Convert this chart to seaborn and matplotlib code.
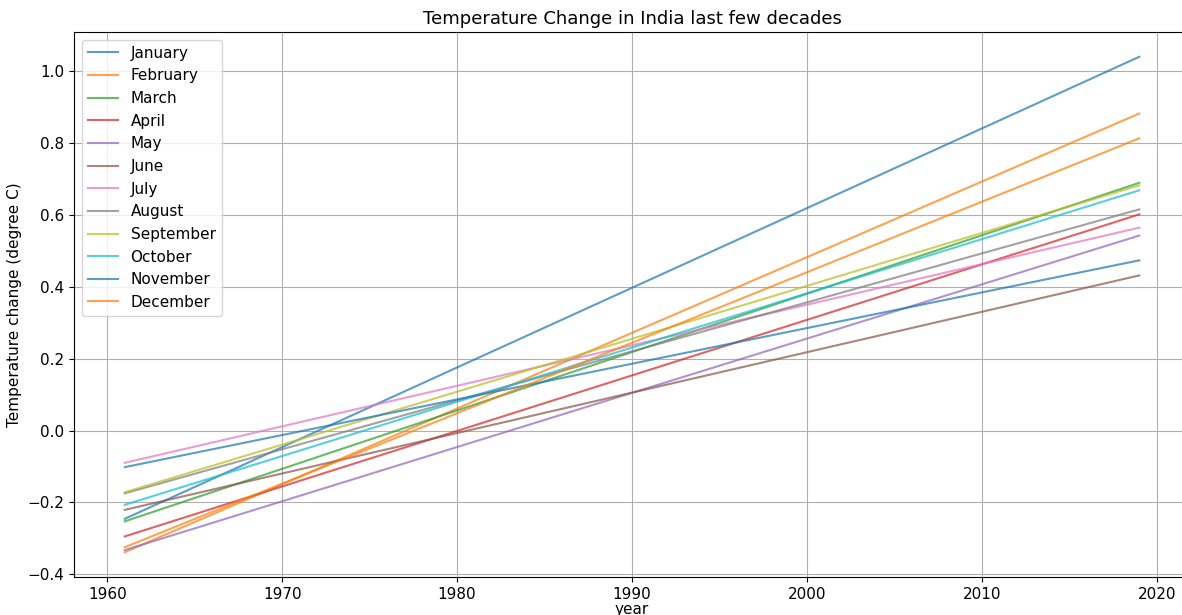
import matplotlib
matplotlib.use("Agg")
import matplotlib.pyplot as plt
import pandas as pd
import seaborn as sns

# Linear trend of temperature change per month, read at the two ends (1961, 2019)
years = [1961, 2019]
months = ['January', 'February', 'March', 'April', 'May', 'June', 'July',
          'August', 'September', 'October', 'November', 'December']
start_vals = [-0.246, -0.339, -0.253, -0.295, -0.333, -0.221, -0.090,
              -0.175, -0.172, -0.207, -0.102, -0.325]
end_vals = [1.041, 0.883, 0.690, 0.602, 0.543, 0.432, 0.565,
            0.616, 0.683, 0.669, 0.474, 0.814]

rows = []
for m, s, e in zip(months, start_vals, end_vals):
    rows.append({'year': years[0], 'month': m, 'change': s})
    rows.append({'year': years[1], 'month': m, 'change': e})
df = pd.DataFrame(rows)

fig = plt.figure(figsize=(11.82, 6.15), dpi=100)
ax = fig.add_axes([74 / 1182, 38 / 615, 1116 / 1182, 545 / 615])

palette = sns.color_palette('tab10', 12)
sns.lineplot(data=df, x='year', y='change', hue='month', hue_order=months,
             palette=palette, alpha=0.72, linewidth=1.5, ax=ax)

ax.grid(True, color='#b0b0b0', linewidth=0.8)
ax.set_title('Temperature Change in India last few decades', fontsize=13)
ax.set_xlabel('year', fontsize=11, labelpad=0)
ax.set_ylabel('Temperature change (degree C)', fontsize=11)
ax.tick_params(labelsize=11)
ax.set_xticks([1960, 1970, 1980, 1990, 2000, 2010, 2020])
ax.legend(loc='upper left', fontsize=11)

fig.savefig('out.png', dpi=100)
